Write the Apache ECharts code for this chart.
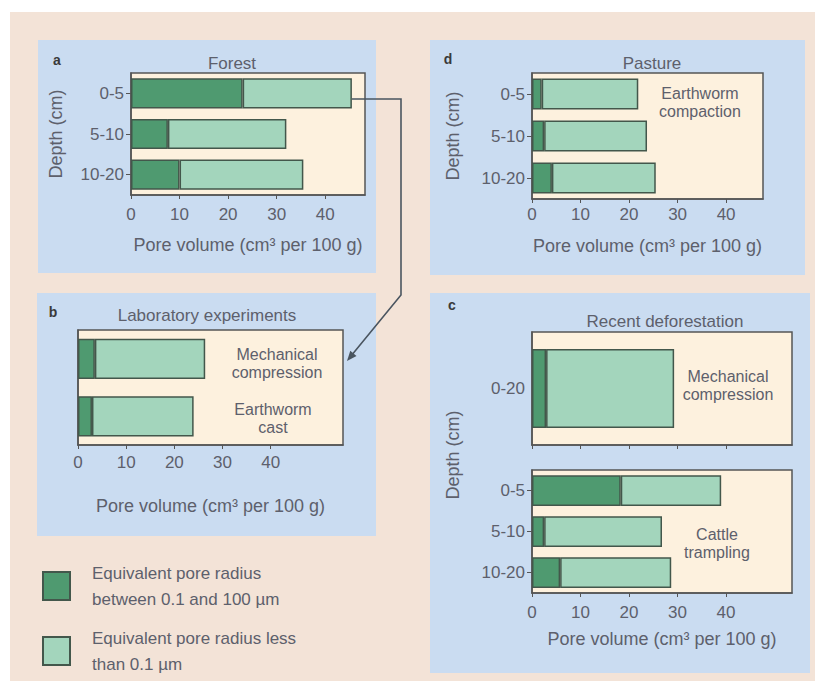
<!DOCTYPE html>
<html>
<head>
<meta charset="utf-8">
<script src="https://cdn.jsdelivr.net/npm/echarts@6/dist/echarts.min.js"></script>
<style>
html,body{margin:0;padding:0;background:#ffffff;}
#chart{width:820px;height:681px;}
</style>
</head>
<body>
<div id="chart"></div>
<script>
// ---- data (pore volume, cm3 per 100 g) ----
const depthCats = ['0-5', '5-10', '10-20'];
const labCats = ['Mechanical compression', 'Earthworm cast'];
const deforCats = ['0-20'];
const xTicks = [0, 10, 20, 30, 40];

// a Forest
const forestLarge = [23, 7.6, 10];
const forestSmall = [22.5, 24.4, 25.5];
// b Laboratory experiments
const labLarge = [3.5, 2.9];
const labSmall = [22.9, 21.1];
// d Pasture
const pastureLarge = [2, 2.5, 4.1];
const pastureSmall = [19.9, 21.2, 21.4];
// c Recent deforestation: mechanical compression
const deforLarge = [2.9];
const deforSmall = [26.4];
// c Recent deforestation: cattle trampling
const cattleLarge = [18.3, 2.5, 5.8];
const cattleSmall = [20.7, 24.3, 22.9];

const nameLarge = 'Equivalent pore radius between 0.1 and 100 µm';
const nameSmall = 'Equivalent pore radius less than 0.1 µm';

// ---- styles ----
const FONT = '"Liberation Sans", Arial, Helvetica, sans-serif';
const TXT = '#5d606c';
const DARK = '#4f9a70';
const LIGHT = '#a3d5bc';
const EDGE = '#43574b';
const CREAM = '#fdf1de';
const BLUE = '#cadcf1';
const PEACH = '#f3e3d7';
const BOX = '#555555';

const chart = echarts.init(document.getElementById('chart'), null, {renderer: 'svg'});

function grid(l, t, w, h) {
  return {left: l, top: t, width: w, height: h, show: true, backgroundColor: CREAM,
          borderColor: BOX, borderWidth: 1.5, containLabel: false};
}
function xAxis(gi, max, showLabels, margin, nameGap) {
  return {
    type: 'value', gridIndex: gi, min: 0, max: max, interval: 10,
    axisLine: {show: true, lineStyle: {color: BOX, width: 1.5}},
    axisTick: {show: true, length: 4, inside: false, lineStyle: {color: BOX}, customValues: xTicks},
    axisLabel: {show: showLabels, color: TXT, fontSize: 17, fontFamily: FONT, margin: margin, customValues: xTicks},
    splitLine: {show: false},
    name: showLabels ? 'Pore volume (cm³ per 100 g)' : '',
    nameLocation: 'middle', nameGap: nameGap,
    nameTextStyle: {color: TXT, fontSize: 18, fontFamily: FONT}
  };
}
function yAxis(gi, cats, showLabels, showTick, name, nameGap) {
  return {
    type: 'category', gridIndex: gi, data: cats, inverse: true,
    axisLine: {show: true, lineStyle: {color: BOX, width: 1.5}},
    axisTick: {show: showTick, alignWithLabel: true, length: 5, lineStyle: {color: BOX}},
    axisLabel: {show: showLabels, color: TXT, fontSize: 17, fontFamily: FONT, margin: 7},
    name: name || '', nameLocation: 'middle', nameGap: nameGap || 0, nameRotate: 90,
    nameTextStyle: {color: TXT, fontSize: 18, fontFamily: FONT}
  };
}
function bars(idx, large, small, gap) {
  const base = {type: 'bar', xAxisIndex: idx, yAxisIndex: idx, stack: 's' + idx,
                barCategoryGap: gap, animation: false};
  return [
    Object.assign({}, base, {name: nameLarge, data: large,
      itemStyle: {color: DARK, borderColor: EDGE, borderWidth: 1.5}}),
    Object.assign({}, base, {name: nameSmall, data: small,
      itemStyle: {color: LIGHT, borderColor: EDGE, borderWidth: 1.5}})
  ];
}
function txt(x, y, s, opts) {
  return Object.assign({type: 'text', x: x, y: y, z: 50,
    style: {text: s, fill: TXT, font: '16px ' + FONT, align: 'center', verticalAlign: 'middle', lineHeight: 18}}, opts || {});
}
function letter(x, y, s) {
  return {type: 'text', x: x, y: y, z: 50,
    style: {text: s, fill: '#3a3a3a', font: 'bold 14px ' + FONT, align: 'center', verticalAlign: 'middle'}};
}
function panel(x, y, w, h, c) {
  return {type: 'rect', shape: {x: x, y: y, width: w, height: h}, z: -100, style: {fill: c}};
}
function legendBox(top, name, label) {
  return {
    orient: 'vertical', left: 37, top: top, itemWidth: 27, itemHeight: 28,
    icon: 'rect', selectedMode: false, data: [name],
    textStyle: {color: TXT, fontSize: 17, fontFamily: FONT, lineHeight: 26, padding: [0, 0, 0, 17]},
    formatter: function () { return label; }
  };
}

const option = {
  backgroundColor: '#ffffff',
  animation: false,
  title: [
    {text: 'Forest', left: 227, top: 50, textAlign: 'center', textStyle: {color: TXT, fontSize: 17, fontWeight: 'normal', fontFamily: FONT}},
    {text: 'Pasture', left: 647, top: 50, textAlign: 'center', textStyle: {color: TXT, fontSize: 17, fontWeight: 'normal', fontFamily: FONT}},
    {text: 'Laboratory experiments', left: 202, top: 302, textAlign: 'center', textStyle: {color: TXT, fontSize: 17, fontWeight: 'normal', fontFamily: FONT}},
    {text: 'Recent deforestation', left: 660, top: 308, textAlign: 'center', textStyle: {color: TXT, fontSize: 17, fontWeight: 'normal', fontFamily: FONT}}
  ],
  grid: [
    grid(131, 73, 234, 122),   // a
    grid(78, 330, 265, 115),   // b
    grid(532, 73, 231, 126),   // d
    grid(532, 332, 260, 113),  // c upper
    grid(532, 470, 260, 123)   // c lower
  ],
  xAxis: [
    xAxis(0, 48.2, true, 11, 41),
    xAxis(1, 55, true, 9, 52),
    xAxis(2, 47.6, true, 7, 38),
    xAxis(3, 53.6, false, 8, 30),
    xAxis(4, 53.6, true, 11, 37)
  ],
  yAxis: [
    yAxis(0, depthCats, true, true, 'Depth (cm)', 66),
    yAxis(1, labCats, false, false),
    yAxis(2, depthCats, true, true, 'Depth (cm)', 70),
    yAxis(3, deforCats, true, false),
    yAxis(4, depthCats, true, true)
  ],
  legend: [
    legendBox(555, nameLarge, 'Equivalent pore radius\nbetween 0.1 and 100 µm'),
    legendBox(620, nameSmall, 'Equivalent pore radius less\nthan 0.1 µm')
  ],
  series: [].concat(
    bars(0, forestLarge, forestSmall, '26%'),
    bars(1, labLarge, labSmall, '30%'),
    bars(2, pastureLarge, pastureSmall, '26%'),
    bars(3, deforLarge, deforSmall, '30%'),
    bars(4, cattleLarge, cattleSmall, '25%')
  ),
  graphic: [
    panel(10, 12, 805, 669, PEACH),
    panel(38, 40, 338, 233, BLUE),
    panel(37, 293, 339, 243, BLUE),
    panel(430, 40, 375, 235, BLUE),
    panel(430, 293, 380, 380, BLUE),
    letter(57, 60, 'a'),
    letter(53, 312, 'b'),
    letter(448, 59, 'd'),
    letter(452, 305, 'c'),
    txt(700, 102, 'Earthworm\ncompaction'),
    txt(277, 363, 'Mechanical\ncompression'),
    txt(273, 418, 'Earthworm\ncast'),
    txt(728, 385, 'Mechanical\ncompression'),
    txt(717, 543, 'Cattle\ntrampling'),
    {type: 'text', x: 453, y: 455, rotation: Math.PI / 2, z: 50,
     style: {text: 'Depth (cm)', fill: TXT, font: '18px ' + FONT, align: 'center', verticalAlign: 'middle'}},
    {type: 'polyline', z: 60, shape: {points: [[352, 99], [401, 99], [401, 295], [351, 356]]},
     style: {stroke: '#4a5560', lineWidth: 1.6, fill: null}},
    {type: 'polygon', z: 60, shape: {points: [[347, 361], [356.5, 355.9], [350.3, 350.7]]},
     style: {fill: '#4a5560'}}
  ]
};
chart.setOption(option);
</script>
</body>
</html>
